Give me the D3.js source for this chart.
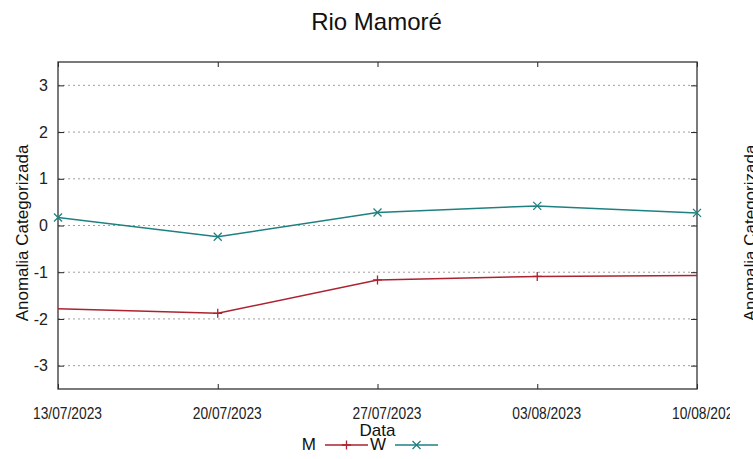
<!DOCTYPE html>
<html><head><meta charset="utf-8">
<script src="https://cdn.jsdelivr.net/npm/d3@7"></script>
<style>body{margin:0;background:#fff;}svg{display:block;font-family:"Liberation Sans",Arial,sans-serif;}</style>
</head><body>
<svg id="c" width="753" height="459"></svg>
<script>
const dates = ["2023-07-13","2023-07-20","2023-07-27","2023-08-03","2023-08-10"];
const seriesM = [-1.78, -1.88, -1.165, -1.09, -1.07];
const seriesW = [0.17, -0.24, 0.28, 0.42, 0.27];
const yTicks = [-3,-2,-1,0,1,2,3];
const title = "Rio Mamoré";
const xTitle = "Data";
const yTitle = "Anomalia Categorizada";
const colM = "#ad2230", colW = "#1f8080";

const svg = d3.select("#c");
const parse = d3.utcParse("%Y-%m-%d");
const dd = dates.map(parse);
const L=58, R=697, T=62, B=389;
const x = d3.scaleUtc().domain([dd[0], dd[dd.length-1]]).range([L,R]);
const y = d3.scaleLinear().domain([-3.5,3.5]).range([B,T]);
const fmt = d3.utcFormat("%d/%m/%Y");

svg.append("defs").append("clipPath").attr("id","tickclip")
  .append("rect").attr("x",0).attr("y",0).attr("width",730).attr("height",459);

// grid
svg.append("g").selectAll("line").data(yTicks).join("line")
  .attr("x1",L).attr("x2",R).attr("y1",d=>y(d)).attr("y2",d=>y(d))
  .attr("stroke","#a0a0a0").attr("stroke-width",1).attr("stroke-dasharray","2,3");

// y axis ticks and labels
const ya = d3.axisLeft(y).tickValues(yTicks).tickSize(-6).tickPadding(10).tickFormat(d=>String(d));
const gy = svg.append("g").attr("transform",`translate(${L},0)`).call(ya);
gy.select(".domain").remove();
gy.selectAll("text").attr("font-size",16).attr("font-family","Liberation Sans, Arial, sans-serif").attr("fill","#222");
gy.selectAll("line").attr("stroke","#222");
const yr = d3.axisRight(y).tickValues(yTicks).tickSize(-6).tickFormat("");
const gyr = svg.append("g").attr("transform",`translate(${R},0)`).call(yr);
gyr.select(".domain").remove(); gyr.selectAll("line").attr("stroke","#222");

// x ticks
const xa = d3.axisBottom(x).tickValues(dd).tickSize(-5).tickPadding(0).tickFormat(fmt);
const gx = svg.append("g").attr("transform",`translate(0,${B})`).call(xa);
gx.select(".domain").remove();
gx.selectAll("line").attr("stroke","#222");
gx.selectAll("text").attr("font-size",17).attr("fill","#222")
  .attr("font-family","Liberation Sans Narrow, Arial Narrow, sans-serif")
  .attr("dy",0).attr("y",30).attr("x",9)
  .attr("textLength",69).attr("lengthAdjust","spacingAndGlyphs");
gx.selectAll(".tick text").each(function(){
  const t=d3.select(this); const g=d3.select(this.parentNode);
  // wrap label in a clip group keyed to page coords
});
gx.attr("clip-path",null);
const xt = d3.axisTop(x).tickValues(dd).tickSize(-5).tickFormat("");
const gxt = svg.append("g").attr("transform",`translate(0,${T})`).call(xt);
gxt.select(".domain").remove(); gxt.selectAll("line").attr("stroke","#222");

// wrap bottom axis in clipped outer group (page coords)
const outer = svg.insert("g", () => gx.node()).attr("clip-path","url(#tickclip)");
outer.node().appendChild(gx.node());

// border
svg.append("rect").attr("x",L).attr("y",T).attr("width",R-L).attr("height",B-T)
  .attr("fill","none").attr("stroke","#333").attr("stroke-width",1.3);

// lines
const line = d3.line().x(d=>x(d[0])).y(d=>y(d[1]));
const dM = dd.map((d,i)=>[d,seriesM[i]]);
const dW = dd.map((d,i)=>[d,seriesW[i]]);
svg.append("path").datum(dM).attr("d",line).attr("fill","none").attr("stroke",colM).attr("stroke-width",1.5);
svg.append("path").datum(dW).attr("d",line).attr("fill","none").attr("stroke",colW).attr("stroke-width",1.5);

// markers
const plus = (g,cx,cy,s,c)=>{g.append("path").attr("d",`M${cx-s},${cy}H${cx+s}M${cx},${cy-s}V${cy+s}`).attr("stroke",c).attr("stroke-width",1.3).attr("fill","none");};
const cross = (g,cx,cy,s,c)=>{g.append("path").attr("d",`M${cx-s},${cy-s}L${cx+s},${cy+s}M${cx-s},${cy+s}L${cx+s},${cy-s}`).attr("stroke",c).attr("stroke-width",1.3).attr("fill","none");};
const gm = svg.append("g");
dM.slice(1,-1).forEach(d=>plus(gm,x(d[0]),y(d[1]),4.5,colM));
dW.forEach(d=>cross(gm,x(d[0]),y(d[1]),4,colW));

// titles
svg.append("text").attr("x",376.5).attr("y",30).attr("text-anchor","middle").attr("font-size",24).attr("fill","#111").text(title);
svg.append("text").attr("x",(L+R)/2).attr("y",436).attr("text-anchor","middle").attr("font-size",17).attr("fill","#111").text(xTitle);
svg.append("text").attr("transform","translate(28,233) rotate(-90)").attr("text-anchor","middle").attr("font-size",17).attr("fill","#111").text(yTitle);
svg.append("text").attr("transform","translate(756,233) rotate(-90)").attr("text-anchor","middle").attr("font-size",17).attr("fill","#111").text(yTitle);

// legend
const lg = svg.append("g");
lg.append("text").attr("x",316).attr("y",450).attr("text-anchor","end").attr("font-size",17).attr("fill","#111").text("M");
lg.append("line").attr("x1",325).attr("x2",368).attr("y1",445).attr("y2",445).attr("stroke",colM).attr("stroke-width",1.5);
plus(lg,346.5,445,4.5,colM);
lg.append("text").attr("x",386).attr("y",450).attr("text-anchor","end").attr("font-size",17).attr("fill","#111").text("W");
lg.append("line").attr("x1",395).attr("x2",438).attr("y1",445).attr("y2",445).attr("stroke",colW).attr("stroke-width",1.5);
cross(lg,416.5,445,4,colW);
</script>
</body></html>
